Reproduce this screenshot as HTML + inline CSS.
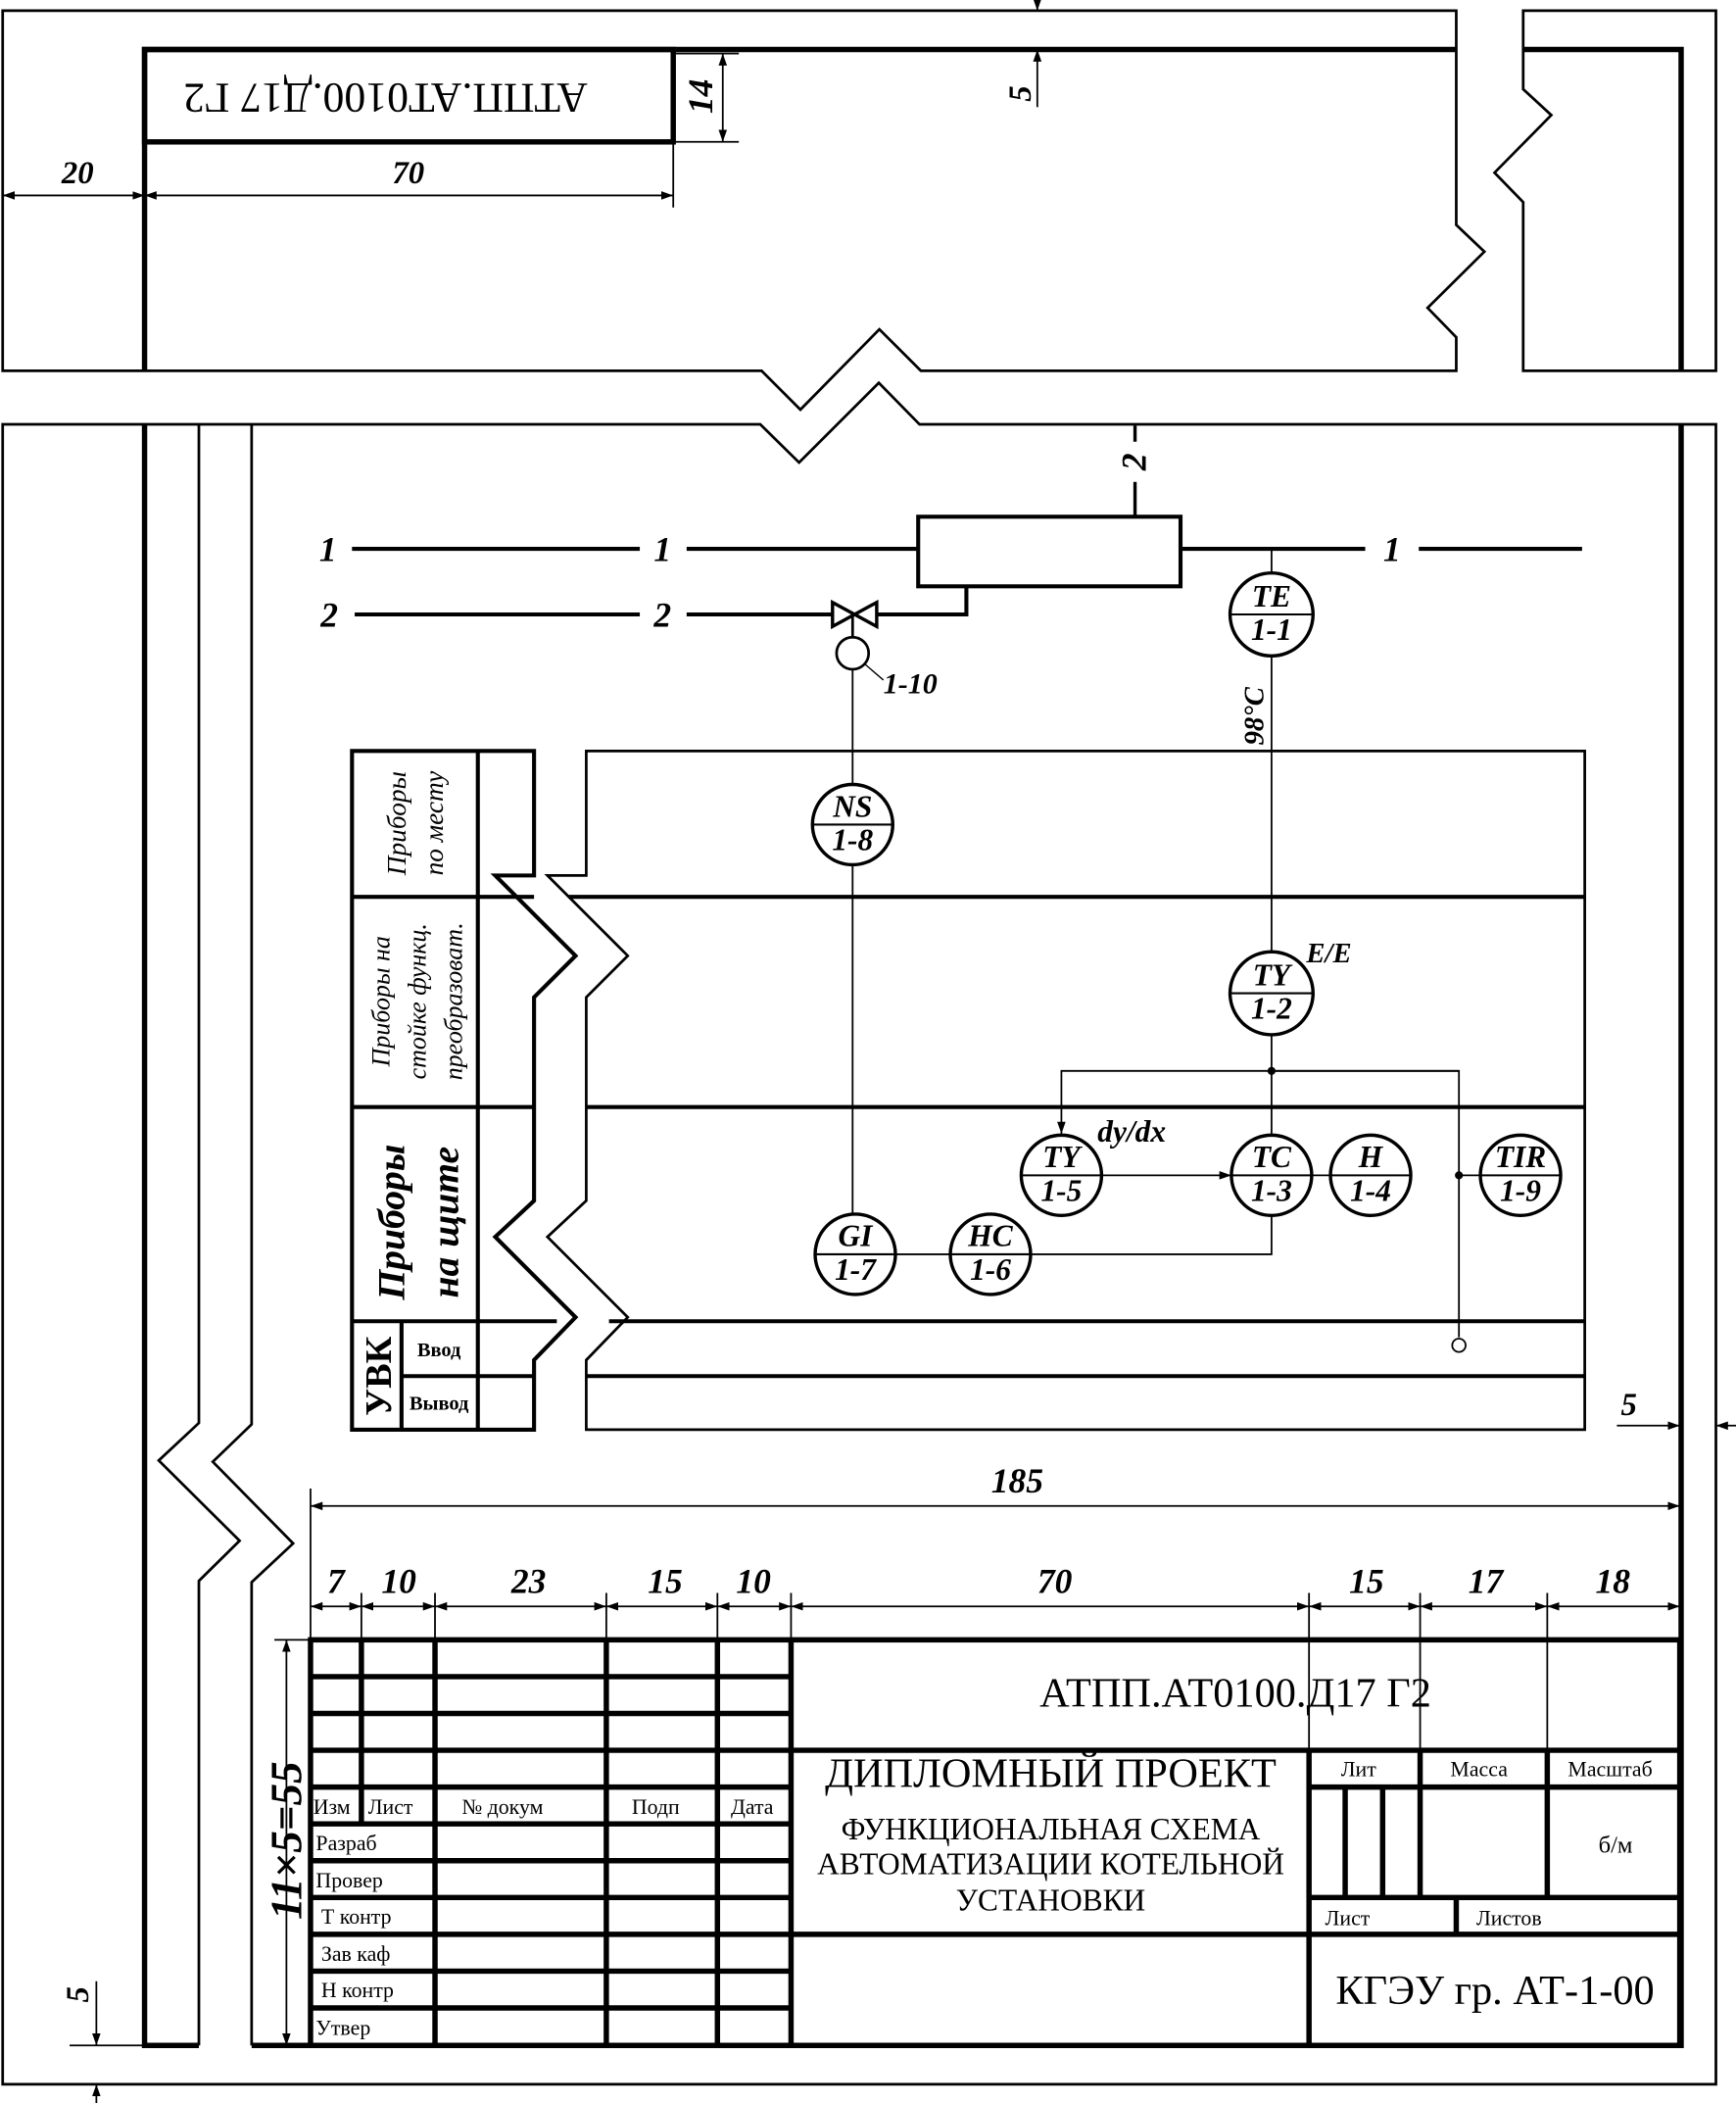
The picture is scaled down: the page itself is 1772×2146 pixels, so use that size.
<!DOCTYPE html>
<html><head><meta charset="utf-8"><style>
html,body{margin:0;padding:0;background:#fff}
svg{display:block}
text{font-family:"Liberation Serif","DejaVu Serif",serif;fill:#000}
.bi{font-weight:bold;font-style:italic}
</style></head><body>
<svg width="1772" height="2146" viewBox="0 0 1297 1571" preserveAspectRatio="none" xmlns="http://www.w3.org/2000/svg">
<defs>
<marker id="a" viewBox="0 0 10 10" refX="10" refY="5" markerWidth="9" markerHeight="9" markerUnits="userSpaceOnUse" orient="auto-start-reverse"><path d="M0,1.5 L10,5 L0,8.5 z" fill="#000"/></marker>
</defs>
<g fill="none" stroke="#000">
<path d="M2,8 H1088 V168 L1109,188 L1066.6,230 L1088,252 V277 H688 L657,246 L598,306 L569,277 H2 Z" stroke-width="2"/>
<path d="M1138,8 H1282 V277 H1138 V151 L1116.6,129 L1159,86 L1138,66.6 Z" stroke-width="2"/>
<path d="M108,277 V37 H1088 M1138,37 H1256 V277" stroke-width="4"/>
<rect x="108" y="37" width="395" height="69" stroke-width="4"/>
<path d="M503,40 H552 M503,106 H552" stroke-width="1.3"/>
<path d="M540,40 V106" stroke-width="1.3" marker-start="url(#a)" marker-end="url(#a)"/>
<path d="M775,0 V8" stroke-width="1.3" marker-end="url(#a)"/>
<path d="M775,80 V37" stroke-width="1.3" marker-end="url(#a)"/>
<path d="M2,146 H108" stroke-width="1.3" marker-start="url(#a)" marker-end="url(#a)"/>
<path d="M108,146 H503" stroke-width="1.3" marker-start="url(#a)" marker-end="url(#a)"/>
<path d="M503,106 V155" stroke-width="1.3"/>

<path d="M2,317 H568 L597,345.5 L656.6,286 L687,317 H1282 V1557 H2 Z" stroke-width="2"/>
<path d="M108,317 V1528 H148.6" stroke-width="4"/>
<path d="M148.6,317 V1063 L118.6,1091 L179,1151 L148.6,1181 V1528" stroke-width="2"/>
<path d="M188,317 V1064 L159,1092 L219,1153 L188,1182 V1528" stroke-width="2"/>
<path d="M188,1528 H1256 V317" stroke-width="4"/>

<path d="M1208,1065 H1255" stroke-width="1.3" marker-end="url(#a)"/>
<path d="M1297,1065 H1282" stroke-width="1.3" marker-end="url(#a)"/>
<path d="M52,1528 H108" stroke-width="1.3"/>
<path d="M72,1480 V1528" stroke-width="1.3" marker-end="url(#a)"/>
<path d="M72,1571 V1557" stroke-width="1.3" marker-end="url(#a)"/>

<path d="M263,410 H478 M513,410 H686 M882,410 H1020 M1060,410 H1182" stroke-width="3"/>
<path d="M265,459 H478 M513,459 H622 M655,459 H722 V438" stroke-width="3"/>
<rect x="686" y="386" width="196" height="52" stroke-width="3"/>
<path d="M848,386 V360 M848,330 V318" stroke-width="2.5"/>
<path d="M622,450 L655,468 V450 L622,468 Z" stroke-width="2.5"/>
<path d="M637,459 V476" stroke-width="2"/>
<circle cx="637" cy="488" r="12" stroke-width="2"/>
<path d="M646,496 L660,508" stroke-width="1"/>
<path d="M637,500 V586 M637,646 V907" stroke-width="1.3"/>
<path d="M950,410 V428 M950,490 V711 M950,773 V847" stroke-width="1.3"/>
<path d="M1090,800 H793 V847" stroke-width="1.3" marker-end="url(#a)"/>
<path d="M950,800 H1090 V999" stroke-width="1.3"/>
<circle cx="1090" cy="1005" r="5" stroke-width="1.3"/>
<path d="M1090,878 H1106" stroke-width="1.3"/>
<path d="M823,878 H920" stroke-width="1.3" marker-end="url(#a)"/>
<path d="M980,878 H994" stroke-width="1.3"/>
<path d="M950,908 V937 H770 M710,937 H669" stroke-width="1.3"/>

<path d="M263,561 H399 V654 L370,654 L430,714 L399,745 V897 L370,924 L430,984 L399,1016 V1068 H263 Z" stroke-width="3"/>
<path d="M357,561 V1068 M263,670 H399 M263,827 H399 M263,987 H416 M300,987 V1068 M300,1028 H399" stroke-width="3"/>
<path d="M438,561 H1184 V1068 H438 V1016 L469,984 L409,924 L438,897 V745 L469,714 L409,654 L438,654 Z" stroke-width="2"/>
<path d="M425,670 H1184 M438,827 H1184 M455,987 H1184 M438,1028 H1184" stroke-width="3"/>

<g stroke-width="2.5" fill="#fff">
<circle cx="950" cy="459" r="31"/>
<circle cx="637" cy="616" r="30"/>
<circle cx="950" cy="742" r="31"/>
<circle cx="793" cy="878" r="30"/>
<circle cx="950" cy="878" r="30"/>
<circle cx="1024" cy="878" r="30"/>
<circle cx="1136" cy="878" r="30"/>
<circle cx="639" cy="937" r="30"/>
<circle cx="740" cy="937" r="30"/>
</g>
<path d="M607,616 H667 M919,742 H981 M763,878 H823 M920,878 H980 M994,878 H1054 M1106,878 H1166 M609,937 H669 M710,937 H770 M919,459 H981" stroke-width="1.5"/>
<circle cx="950" cy="800" r="2.5" fill="#000"/>
<circle cx="1090" cy="878" r="2.5" fill="#000"/>

<path d="M232,1112 V1225 M1255,1112 V1228" stroke-width="1.3"/>
<path d="M232,1125 H1255" stroke-width="1.3" marker-start="url(#a)" marker-end="url(#a)"/>
<path d="M270,1190 V1225 M325,1190 V1225 M453,1190 V1225 M536,1190 V1225 M591,1190 V1225 M978,1190 V1307 M1061,1190 V1307 M1156,1190 V1307" stroke-width="1.3"/>
<g stroke-width="1.3">
<path d="M232,1200 H270" marker-start="url(#a)" marker-end="url(#a)"/>
<path d="M270,1200 H325" marker-start="url(#a)" marker-end="url(#a)"/>
<path d="M325,1200 H453" marker-start="url(#a)" marker-end="url(#a)"/>
<path d="M453,1200 H536" marker-start="url(#a)" marker-end="url(#a)"/>
<path d="M536,1200 H591" marker-start="url(#a)" marker-end="url(#a)"/>
<path d="M591,1200 H978" marker-start="url(#a)" marker-end="url(#a)"/>
<path d="M978,1200 H1061" marker-start="url(#a)" marker-end="url(#a)"/>
<path d="M1061,1200 H1156" marker-start="url(#a)" marker-end="url(#a)"/>
<path d="M1156,1200 H1255" marker-start="url(#a)" marker-end="url(#a)"/>
</g>
<path d="M205,1225 H232" stroke-width="1.3"/>
<path d="M214,1225 V1528" stroke-width="1.3" marker-start="url(#a)" marker-end="url(#a)"/>

<g stroke-width="4">
<rect x="232" y="1225" width="1023" height="303"/>
<path d="M232,1252.5 H591 M232,1280 H591 M232,1307.5 H591 M232,1335 H591 M232,1362.5 H591 M232,1390 H591 M232,1417.5 H591 M232,1445 H591 M232,1472.5 H591 M232,1500 H591"/>
<path d="M270,1225 V1362.5 M325,1225 V1528 M453,1225 V1528 M536,1225 V1528 M591,1225 V1528"/>
<path d="M591,1307.5 H1255 M591,1445 H1255 M978,1307.5 V1528 M978,1335 H1255 M978,1417.5 H1255"/>
<path d="M1061,1307.5 V1417.5 M1156,1307.5 V1417.5 M1005,1335 V1417.5 M1033,1335 V1417.5 M1088,1417.5 V1445"/>
</g>
</g>

<text x="288" y="70" font-size="32" text-anchor="middle" transform="rotate(180 288 70)" dominant-baseline="middle">АТПП.АТ0100.Д17 Г2</text>
<text class="bi" x="58" y="137" font-size="24" text-anchor="middle">20</text>
<text class="bi" x="305" y="137" font-size="24" text-anchor="middle">70</text>
<text class="bi" x="0" y="0" font-size="26" text-anchor="middle" transform="translate(532,72) rotate(-90)">14</text>
<text class="bi" x="0" y="0" font-size="24" text-anchor="middle" transform="translate(770,70) rotate(-90)">5</text>
<text class="bi" x="1217" y="1057" font-size="24" text-anchor="middle">5</text>
<text class="bi" x="0" y="0" font-size="24" text-anchor="middle" transform="translate(66,1490) rotate(-90)">5</text>

<g class="bi" font-size="26" text-anchor="middle">
<text x="245" y="419">1</text><text x="495" y="419">1</text><text x="1040" y="419">1</text>
<text x="246" y="468">2</text><text x="495" y="468">2</text>
<text x="0" y="0" transform="translate(856,345) rotate(-90)">2</text>
</g>
<text class="bi" x="660" y="518" font-size="22">1-10</text>
<text class="bi" x="0" y="0" font-size="21" text-anchor="middle" transform="translate(944,535) rotate(-90)">98°C</text>
<text class="bi" x="976" y="719" font-size="21">E/E</text>
<text class="bi" x="820" y="853" font-size="23">dy/dx</text>

<g class="bi" font-size="23" text-anchor="middle">
<text x="950" y="453">TE</text><text x="950" y="478">1-1</text>
<text x="637" y="610">NS</text><text x="637" y="635">1-8</text>
<text x="950" y="736">TY</text><text x="950" y="761">1-2</text>
<text x="793" y="872">TY</text><text x="793" y="897">1-5</text>
<text x="950" y="872">TC</text><text x="950" y="897">1-3</text>
<text x="1024" y="872">H</text><text x="1024" y="897">1-4</text>
<text x="1136" y="872">TIR</text><text x="1136" y="897">1-9</text>
<text x="639" y="931">GI</text><text x="639" y="956">1-7</text>
<text x="740" y="931">HC</text><text x="740" y="956">1-6</text>
</g>

<g font-style="italic" text-anchor="middle">
<text x="0" y="0" font-size="20" transform="translate(303,615) rotate(-90)">Приборы</text>
<text x="0" y="0" font-size="20" transform="translate(331,615) rotate(-90)">по месту</text>
<text x="0" y="0" font-size="19" transform="translate(291,748) rotate(-90)">Приборы на</text>
<text x="0" y="0" font-size="19" transform="translate(318,748) rotate(-90)">стойке функц.</text>
<text x="0" y="0" font-size="19" transform="translate(345,748) rotate(-90)">преобразоват.</text>
<text x="0" y="0" font-size="29" font-weight="bold" transform="translate(302,913) rotate(-90)">Приборы</text>
<text x="0" y="0" font-size="29" font-weight="bold" transform="translate(342,913) rotate(-90)">на щите</text>
</g>
<text x="0" y="0" font-size="28" font-weight="bold" text-anchor="middle" transform="translate(292,1028) rotate(-90)">УВК</text>
<text x="328" y="1013" font-size="15" font-weight="bold" text-anchor="middle">Ввод</text>
<text x="328" y="1053" font-size="15" font-weight="bold" text-anchor="middle">Вывод</text>

<g class="bi" font-size="26" text-anchor="middle">
<text x="760" y="1115">185</text>
<text x="251" y="1190">7</text><text x="298" y="1190">10</text><text x="395" y="1190">23</text>
<text x="497" y="1190">15</text><text x="563" y="1190">10</text><text x="788" y="1190">70</text>
<text x="1021" y="1190">15</text><text x="1110" y="1190">17</text><text x="1205" y="1190">18</text>
<text x="0" y="0" font-size="33" transform="translate(225,1375) rotate(-90)">11×5=55</text>
</g>

<g font-size="16">
<text x="234" y="1355">Изм</text><text x="275" y="1355">Лист</text>
<text x="345" y="1355">№ докум</text><text x="472" y="1355">Подп</text><text x="546" y="1355">Дата</text>
<text x="236" y="1382">Разраб</text><text x="236" y="1410">Провер</text>
<text x="240" y="1437">Т контр</text><text x="240" y="1465">Зав каф</text>
<text x="240" y="1492">Н контр</text><text x="236" y="1520">Утвер</text>
</g>
<g text-anchor="middle">
<text x="923" y="1275" font-size="31">АТПП.АТ0100.Д17 Г2</text>
<text x="785" y="1335" font-size="31">ДИПЛОМНЫЙ ПРОЕКТ</text>
<text x="785" y="1374" font-size="23">ФУНКЦИОНАЛЬНАЯ СХЕМА</text>
<text x="785" y="1400" font-size="23">АВТОМАТИЗАЦИИ КОТЕЛЬНОЙ</text>
<text x="785" y="1427" font-size="23">УСТАНОВКИ</text>
<text x="1015" y="1327" font-size="16">Лит</text>
<text x="1105" y="1327" font-size="16">Масса</text>
<text x="1203" y="1327" font-size="16">Масштаб</text>
<text x="1207" y="1384" font-size="18">б/м</text>
<text x="1117" y="1497" font-size="31">КГЭУ гр. АТ-1-00</text>
</g>
<text x="990" y="1438" font-size="16">Лист</text>
<text x="1103" y="1438" font-size="16">Листов</text>
</svg>
</body></html>
